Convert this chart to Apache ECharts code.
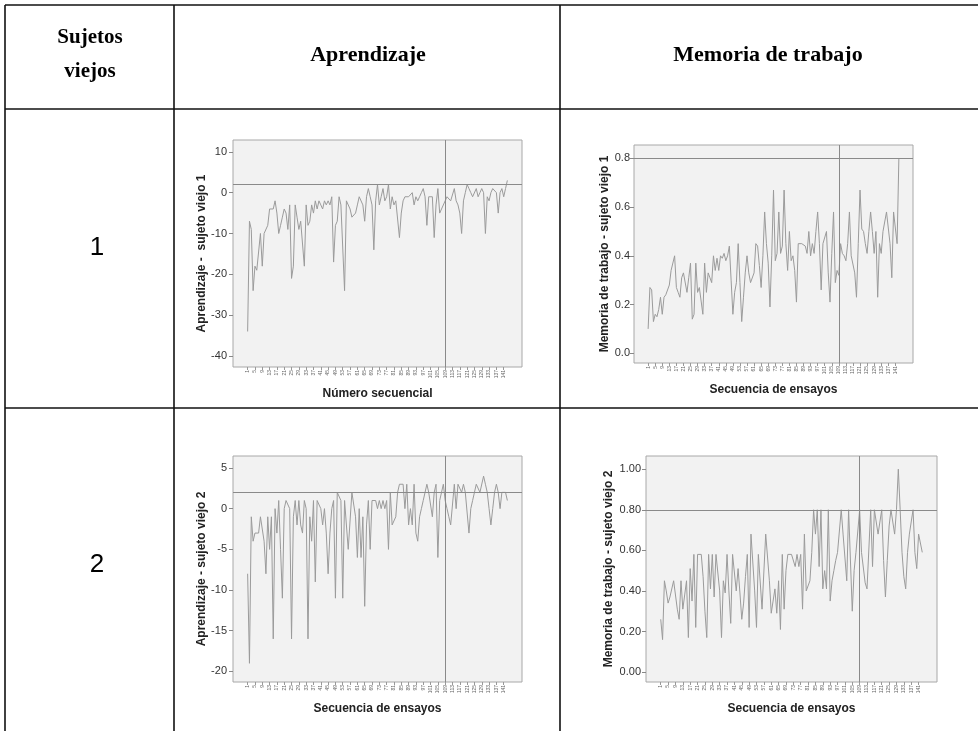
<!DOCTYPE html>
<html>
<head>
<meta charset="utf-8">
<title>Sujetos viejos - Aprendizaje y Memoria de trabajo</title>
<script src="https://cdn.jsdelivr.net/npm/echarts@6/dist/echarts.min.js"></script>
<style>
html, body { margin: 0; padding: 0; background: #fff; }
#main { width: 978px; height: 731px; }
</style>
</head>
<body>
<div id="main"></div>
<script>
// valores (143 ensayos por serie)
var aprendizaje1 = [
    -34, -7, -9, -24, -18, -19, -19, -10, -18, -10,
    -10, -8, -4, -4, -4, -2, -5, -10, -8, -6,
    -4, -5, -9, -3, -21, -18, -3, -6, -9, -7,
    -7, -18, -3, -8, -7, -3, -5, -2, -4, -2,
    -3, -4, -2, -3, -2, -3, -1, -17, -8, -7,
    -1, -3, -3, -24, -2, -2, -4, -6, -6, -5,
    -3, -1, -1, -3, -7, -1, 1, -1, -3, -14,
    -2, 2, -3, -1, 1, -2, -1, 2, -4, -1,
    -3, -2, -2, -11, -5, -2, -1, -1, -1, -1,
    0, -3, -1, -2, -1, 0, 1, -1, -8, -1,
    -1, -1, -11, -3, 1, -5, -4, -4, -2, -1,
    -1, -2, -2, 1, -2, -3, -5, -10, -2, 0,
    2, 1, 0, -1, -1, 1, -1, 0, 1, 0,
    -10, -1, -2, 0, 1, 1, 0, -5, 0, 1,
    -1, 1, 3
];
var memoria1 = [
    0.10, 0.27, 0.26, 0.13, 0.16, 0.15, 0.18, 0.23, 0.16, 0.23,
    0.24, 0.24, 0.28, 0.34, 0.34, 0.40, 0.27, 0.25, 0.23, 0.31,
    0.33, 0.33, 0.25, 0.31, 0.37, 0.14, 0.16, 0.37, 0.25, 0.27,
    0.27, 0.16, 0.37, 0.25, 0.33, 0.31, 0.29, 0.40, 0.34, 0.39,
    0.34, 0.40, 0.39, 0.41, 0.38, 0.40, 0.44, 0.30, 0.16, 0.25,
    0.29, 0.45, 0.29, 0.13, 0.23, 0.33, 0.40, 0.33, 0.29, 0.29,
    0.33, 0.45, 0.44, 0.36, 0.27, 0.40, 0.58, 0.45, 0.37, 0.19,
    0.40, 0.67, 0.38, 0.41, 0.58, 0.41, 0.44, 0.67, 0.45, 0.34,
    0.50, 0.38, 0.40, 0.34, 0.21, 0.45, 0.45, 0.45, 0.45, 0.44,
    0.41, 0.50, 0.40, 0.45, 0.41, 0.50, 0.58, 0.45, 0.26, 0.45,
    0.45, 0.50, 0.33, 0.21, 0.41, 0.58, 0.29, 0.34, 0.32, 0.45,
    0.41, 0.40, 0.38, 0.45, 0.58, 0.40, 0.40, 0.33, 0.23, 0.45,
    0.67, 0.51, 0.50, 0.45, 0.41, 0.50, 0.58, 0.50, 0.41, 0.50,
    0.23, 0.45, 0.41, 0.50, 0.50, 0.58, 0.58, 0.45, 0.31, 0.58,
    0.58, 0.45, 0.80
];
var aprendizaje2 = [
    -8, -19, -1, -4, -3, -3, -3, -1, -1, -4,
    -8, -1, -5, -1, -16, 0, -3, 1, -5, -11,
    0, 1, 1, 0, -16, -1, 1, -2, 1, -2,
    -3, 1, 0, -16, -1, -4, 1, -9, 1, 1,
    0, -2, 0, -3, -8, -3, 0, 1, -11, 2,
    2, 1, -11, 1, 1, -5, -5, 2, 2, -1,
    -6, 0, -6, -1, -12, -2, 1, -5, 1, 1,
    1, 0, 1, 0, 1, 0, 1, -5, 2, -2,
    -2, -1, 2, 3, 3, 3, 0, 3, -2, 0,
    -2, 3, -3, -4, -1, 0, 1, 2, 3, 2,
    2, -1, 2, 3, -6, 1, 1, 3, 1, 0,
    -1, -2, -2, 3, 0, 3, 3, 2, 3, 2,
    2, -3, 0, 1, 2, 3, 3, 2, 2, 4,
    3, 2, 0, -2, 0, 2, 3, 2, 0, 2,
    2, 2, 1
];
var memoria2 = [
    0.26, 0.16, 0.45, 0.40, 0.34, 0.37, 0.37, 0.45, 0.45, 0.31,
    0.26, 0.45, 0.31, 0.38, 0.45, 0.17, 0.51, 0.35, 0.58, 0.22,
    0.58, 0.58, 0.58, 0.47, 0.30, 0.17, 0.58, 0.41, 0.58, 0.37,
    0.58, 0.58, 0.40, 0.17, 0.45, 0.39, 0.58, 0.40, 0.24, 0.58,
    0.58, 0.40, 0.51, 0.39, 0.26, 0.34, 0.47, 0.58, 0.22, 0.68,
    0.68, 0.40, 0.22, 0.58, 0.58, 0.31, 0.31, 0.68, 0.68, 0.45,
    0.29, 0.35, 0.41, 0.29, 0.45, 0.21, 0.58, 0.31, 0.50, 0.58,
    0.58, 0.58, 0.58, 0.52, 0.58, 0.52, 0.58, 0.31, 0.68, 0.40,
    0.40, 0.45, 0.59, 0.80, 0.68, 0.80, 0.52, 0.80, 0.41, 0.50,
    0.41, 0.80, 0.35, 0.45, 0.50, 0.55, 0.59, 0.59, 0.80, 0.68,
    0.68, 0.45, 0.80, 0.80, 0.30, 0.50, 0.59, 0.59, 0.80, 0.59,
    0.59, 0.44, 0.41, 0.41, 0.80, 0.52, 0.80, 0.80, 0.68, 0.68,
    0.80, 0.55, 0.37, 0.55, 0.72, 0.80, 0.80, 0.68, 0.80, 1.00,
    0.80, 0.59, 0.47, 0.41, 0.59, 0.68, 0.68, 0.80, 0.59, 0.51,
    0.68, 0.68, 0.59
];

var ticksAprendizaje1 = [-40, -30, -20, -10, 0, 10];
var ticksMemoria1 = [0, 0.2, 0.4, 0.6, 0.8];
var ticksAprendizaje2 = [-20, -15, -10, -5, 0, 5];
var ticksMemoria2 = [0, 0.2, 0.4, 0.6, 0.8, 1];

var corteAprendizaje = 2;
var corteMemoria = 0.8;
var ensayoCorte = 108;   // indice (base 0) de la linea vertical

var etiquetasX = [];
for (var k = 0; k < aprendizaje1.length - 2; k += 4) {
    etiquetasX.push(k);
}

var chart = echarts.init(document.getElementById('main'));

var grids = [], xAxes = [], yAxes = [], series = [];

function addPanel(box, datos, ticks, dec, yMin, yMax, corte, yName, xName, yGap, labelMargin) {
    var idx = grids.length;
    grids.push({
        left: box[0], top: box[1], width: box[2], height: box[3],
        show: true,
        backgroundColor: '#f2f2f2',
        borderColor: '#a8a8a8',
        borderWidth: 1
    });
    xAxes.push({
        type: 'value',
        gridIndex: idx,
        min: -8,
        max: datos.length + 7,
        axisLine: { show: false, onZero: false },
        splitLine: { show: false },
        axisTick: { show: true, customValues: etiquetasX, length: 3, lineStyle: { color: '#999' } },
        axisLabel: {
            customValues: etiquetasX,
            rotate: 90,
            fontSize: 5,
            color: '#666',
            margin: 3,
            formatter: function (v) { return String(v + 1); }
        },
        name: xName,
        nameLocation: 'middle',
        nameGap: 21,
        nameTextStyle: { fontFamily: 'Liberation Sans', fontWeight: 'bold', fontSize: 12, color: '#222' }
    });
    yAxes.push({
        type: 'value',
        gridIndex: idx,
        min: yMin,
        max: yMax,
        axisLine: { show: false, onZero: false },
        splitLine: { show: false },
        axisTick: { show: true, customValues: ticks, length: 4, lineStyle: { color: '#888' } },
        axisLabel: {
            customValues: ticks,
            fontFamily: 'Liberation Sans',
            fontSize: 11,
            color: '#333',
            margin: labelMargin,
            formatter: function (v) { return v.toFixed(dec); }
        },
        name: yName,
        nameLocation: 'middle',
        nameGap: yGap,
        nameTextStyle: { fontFamily: 'Liberation Sans', fontWeight: 'bold', fontSize: 12, color: '#222' }
    });
    series.push({
        type: 'line',
        xAxisIndex: idx,
        yAxisIndex: idx,
        data: datos.map(function (v, i) { return [i, v]; }),
        symbol: 'none',
        silent: true,
        lineStyle: { color: '#9b9b9b', width: 1 },
        markLine: {
            silent: true,
            symbol: 'none',
            label: { show: false },
            lineStyle: { color: '#8a8a8a', width: 1, type: 'solid' },
            data: [{ yAxis: corte }, { xAxis: ensayoCorte }]
        }
    });
}

addPanel([233, 140, 289, 227], aprendizaje1, ticksAprendizaje1, 0, -42.7, 12.9, corteAprendizaje,
    'Aprendizaje -  sujeto viejo 1', 'Número secuencial', 24, 6);
addPanel([634, 145, 279, 218], memoria1, ticksMemoria1, 1, -0.04, 0.855, corteMemoria,
    'Memoria de trabajo - sujeto viejo 1', 'Secuencia de ensayos', 20, 4);
addPanel([233, 456, 289, 226], aprendizaje2, ticksAprendizaje2, 0, -21.3, 6.47, corteAprendizaje,
    'Aprendizaje - sujeto viejo 2', 'Secuencia de ensayos', 23, 6);
addPanel([646, 456, 291, 226], memoria2, ticksMemoria2, 2, -0.049, 1.065, corteMemoria,
    'Memoria de trabajo - sujeto viejo 2', 'Secuencia de ensayos', 31, 5);

// tabla
function linea(x1, y1, x2, y2) {
    return { type: 'line', silent: true, shape: { x1: x1, y1: y1, x2: x2, y2: y2 },
        style: { stroke: '#111', lineWidth: 1.6 } };
}
function texto(t, x, y, font) {
    return { type: 'text', silent: true, x: x, y: y,
        style: { text: t, font: font, fill: '#000', textAlign: 'center', textVerticalAlign: 'middle' } };
}
var serif = 'bold 21px "Liberation Serif"';
var graficos = [
    linea(5, 5, 978, 5),
    linea(5, 109, 978, 109),
    linea(5, 408, 978, 408),
    linea(5, 5, 5, 731),
    linea(174, 5, 174, 731),
    linea(560, 5, 560, 731),
    texto('Sujetos', 90, 38, serif),
    texto('viejos', 90, 72, serif),
    texto('Aprendizaje', 368, 55, 'bold 22px "Liberation Serif"'),
    texto('Memoria de trabajo', 768, 55, 'bold 22px "Liberation Serif"'),
    texto('1', 97, 248, '26px "Liberation Sans"'),
    texto('2', 97, 565, '26px "Liberation Sans"')
];

chart.setOption({
    animation: false,
    backgroundColor: '#fff',
    grid: grids,
    xAxis: xAxes,
    yAxis: yAxes,
    series: series,
    graphic: graficos
});
</script>
</body>
</html>
